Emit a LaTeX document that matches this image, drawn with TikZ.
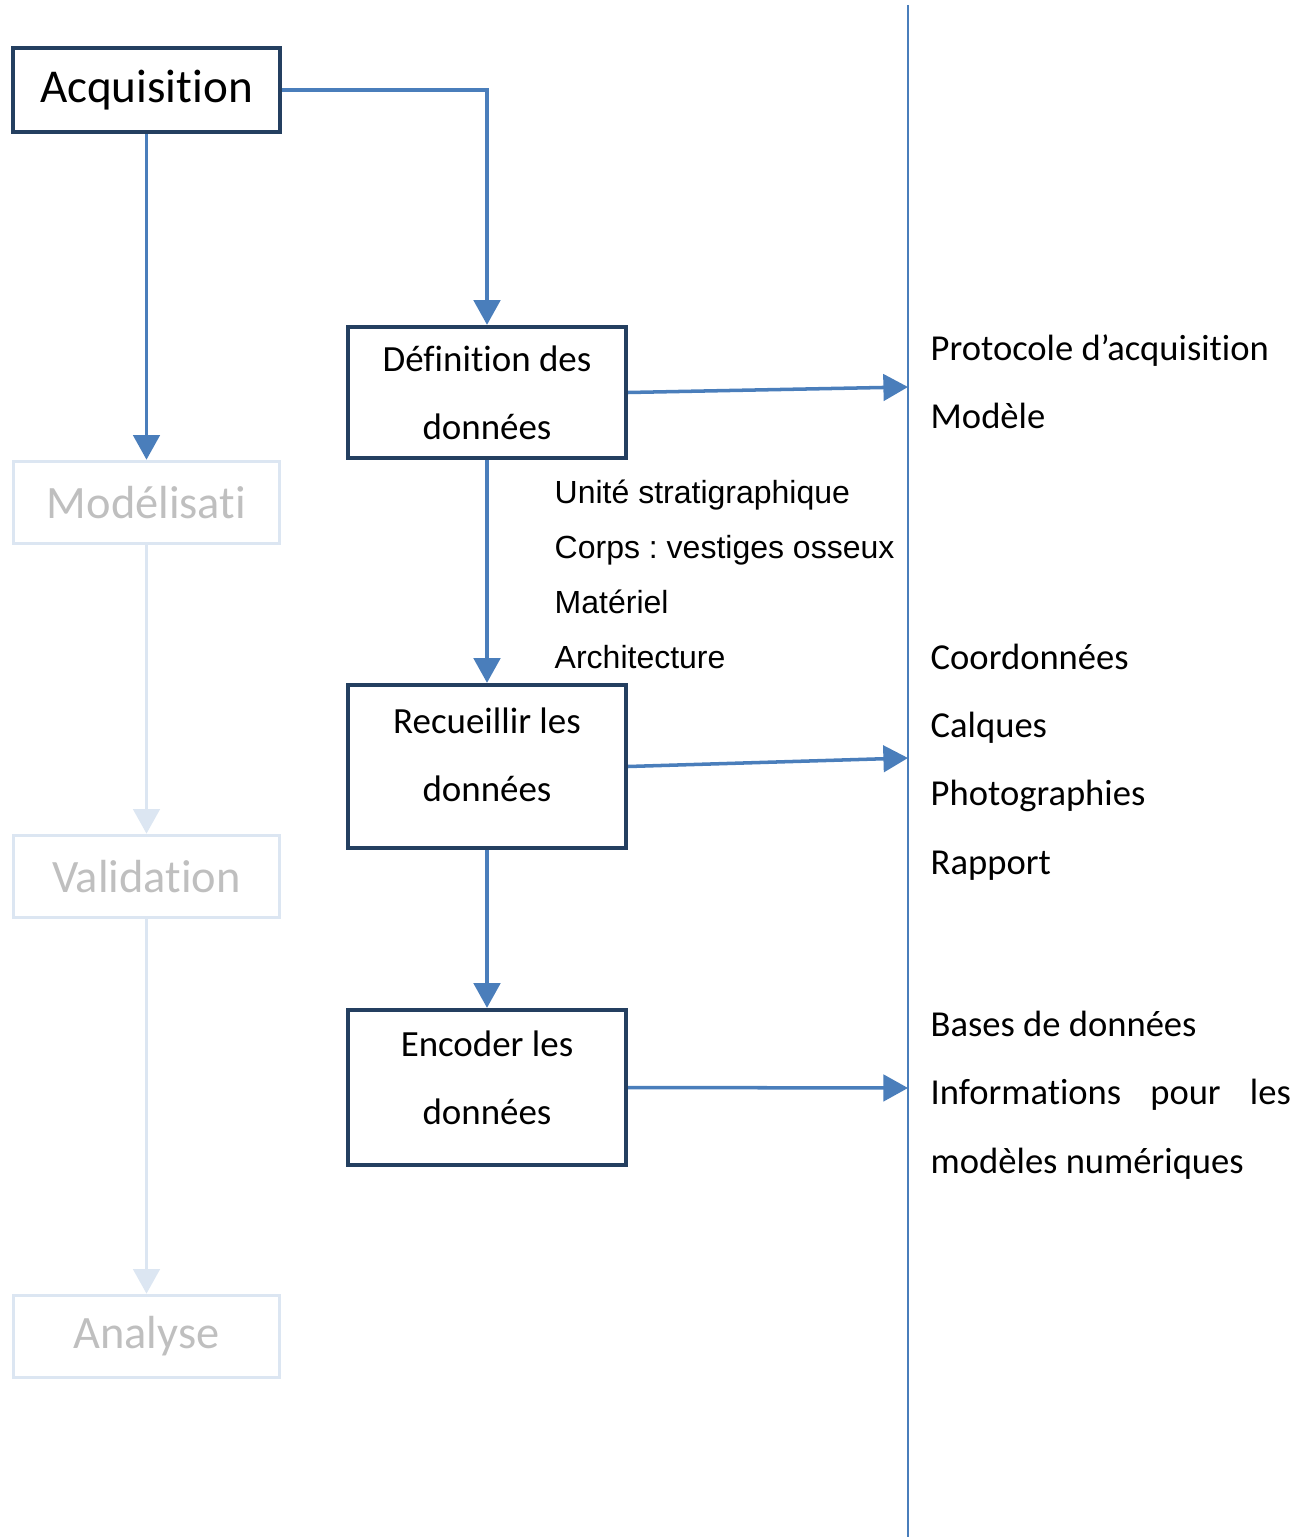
\documentclass[tikz,border=0pt]{standalone}
\usepackage{fontspec}
\setmainfont{Carlito}[Ligatures=NoCommon]
\newfontfamily\arialfont{Liberation Sans}
\usetikzlibrary{arrows.meta, positioning, calc}
\frenchspacing

\definecolor{navy}{HTML}{243F60}
\definecolor{flowblue}{HTML}{4A7EBB}
\definecolor{paleblue}{HTML}{DCE6F2}
\definecolor{greytext}{HTML}{BFBFBF}

\begin{document}
\begin{tikzpicture}[
    x=0.01cm, y=-0.01cm,
    stage/.style={
        rectangle, draw=navy, line width=1.2pt, inner sep=0pt,
        minimum width=2.67cm, minimum height=0.84cm,
        font=\fontsize{13.4}{16}\selectfont
    },
    faded/.style={
        rectangle, draw=paleblue, line width=1pt, inner sep=0pt,
        minimum width=2.66cm, minimum height=0.82cm, text=greytext,
        font=\fontsize{13.2}{16}\selectfont
    },
    task/.style={
        rectangle, draw=navy, line width=1.2pt, inner sep=0pt,
        minimum width=2.78cm, align=center,
        font=\fontsize{10.5}{19.3}\selectfont
    },
    output/.style={anchor=base west, align=left, inner sep=0pt,
        font=\fontsize{10.4}{19.4}\selectfont},
    items/.style={anchor=base west, align=left, inner sep=0pt,
        font=\arialfont\fontsize{9.1}{15.6}\selectfont},
    edge/.style={-{Triangle[length=7pt,width=7.5pt]}, draw=flowblue, line width=1pt},
    paleedge/.style={-{Triangle[length=7pt,width=7.5pt]}, draw=paleblue, line width=1pt},
]
\useasboundingbox (0,0) rectangle (1310,1537);

% Nodes
\node[stage] (acq) at (146.5, 90) {Acquisition};
\node[faded] (modl) at (146.5, 502.5) {Modélisati};
\node[faded] (valid) at (146.5, 876.5) {Validation};
\node[faded] (anal) at (146.5, 1336.5) {Analyse};

\node[task, minimum height=1.31cm] (def) at (487, 392.5) {Définition des\\données};
\node[task, minimum height=1.63cm] (recu) at (487, 766.5) {Recueillir les\\données\\[-12.5pt]\mbox{}};
\node[task, minimum height=1.55cm] (enc) at (487, 1087.5) {Encoder les\\données\\[-13.6pt]\mbox{}};

% lists (anchored on the last line)
\node[items] (types) at (554, 668) {Unité stratigraphique\\Corps : vestiges osseux\\Matériel\\Architecture};

\node[output] (protocol) at (930, 429) {Protocole d’acquisition\\Modèle};
\node[output] (sources) at (930, 874) {Coordonnées\\Calques\\Photographies\\Rapport};
\node[output] (bases) at (930, 1173) {Bases de données\\\makebox[3.6cm][s]{Informations pour les}\\modèles numériques};

% Separator
\coordinate (septop) at (908, 5);
\coordinate (sepbot) at (908, 1537);
\draw[flowblue, line width=0.6pt] (septop) -- (sepbot);

\coordinate (t1) at (908, 387);
\coordinate (t2) at (908, 758);
\coordinate (t3) at (908, 1088);

% Edges
\draw[edge] (acq.east) -| (def.north);
\draw[edge] (acq.south) -- (modl.north);
\draw[paleedge] (modl.south) -- (valid.north);
\draw[paleedge] (valid.south) -- (anal.north);

\draw[edge] (def.south) -- (recu.north);
\draw[edge] (recu.south) -- (enc.north);

\draw[edge] (def.east) -- (t1);
\draw[edge] (recu.east) -- (t2);
\draw[edge] (enc.east) -- (t3);

\end{tikzpicture}
\end{document}
